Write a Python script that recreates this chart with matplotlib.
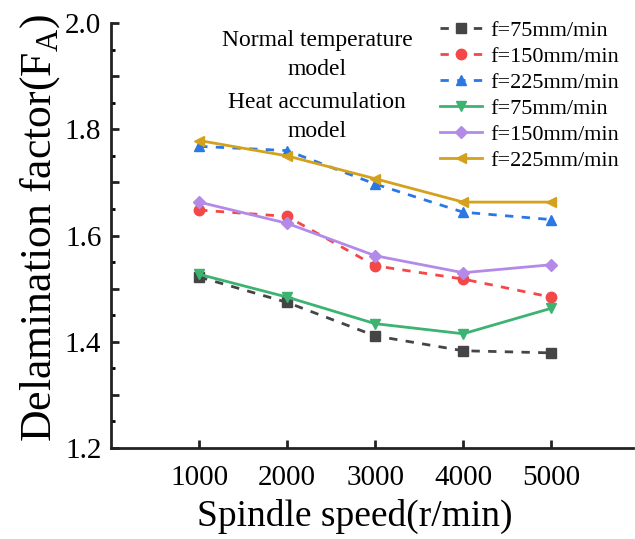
import matplotlib
matplotlib.use('Agg')
import matplotlib.pyplot as plt
from matplotlib.ticker import MultipleLocator, FuncFormatter

plt.rcParams['font.family'] = ['Liberation Serif', 'DejaVu Serif']
plt.rcParams['mathtext.fontset'] = 'custom'
plt.rcParams['mathtext.rm'] = 'Liberation Serif'

# spindle speed (r/min)
speed = [1000, 2000, 3000, 4000, 5000]

# normal temperature model
normal_75 = [1.522, 1.474, 1.411, 1.383, 1.379]
normal_150 = [1.648, 1.636, 1.543, 1.518, 1.484]
normal_225 = [1.768, 1.760, 1.697, 1.644, 1.630]

# heat accumulation model
heat_75 = [1.527, 1.484, 1.434, 1.415, 1.463]
heat_150 = [1.663, 1.623, 1.562, 1.530, 1.545]
heat_225 = [1.779, 1.750, 1.707, 1.663, 1.663]

labels = ['f=75mm/min', 'f=150mm/min', 'f=225mm/min']

fig = plt.figure(figsize=(6.35, 5.39), dpi=100)
ax = fig.add_axes([0.175, 0.169, 0.822, 0.788])

dash = (3, 3)
ax.plot(speed, normal_75, color='#454545', ls='--', dashes=dash, lw=2,
        marker='s', ms=7.5, label=labels[0])
ax.plot(speed, normal_150, color='#f44848', ls='--', dashes=dash, lw=2,
        marker='o', ms=7.5, label=labels[1])
ax.plot(speed, normal_225, color='#2a78e4', ls='--', dashes=dash, lw=2,
        marker='^', ms=7.5, label=labels[2])
ax.plot(speed, heat_75, color='#3cb371', lw=2, marker='v', ms=7.5, label=labels[0])
ax.plot(speed, heat_150, color='#b48ae8', lw=2, marker='D', ms=6.5, label=labels[1])
ax.plot(speed, heat_225, color='#d4a11c', lw=2, marker='<', ms=7.5, label=labels[2])

ax.set_xlim(0, 5930)
ax.set_ylim(1.2, 2.0)
ax.set_xticks(speed)
ax.yaxis.set_major_locator(MultipleLocator(0.1))
ax.yaxis.set_minor_locator(MultipleLocator(0.05))
ax.yaxis.set_major_formatter(FuncFormatter(
    lambda v, p: f'{v:.1f}' if round(v * 10) % 2 == 0 else ''))

ax.spines['top'].set_visible(False)
ax.spines['right'].set_visible(False)
for s in ['left', 'bottom']:
    ax.spines[s].set_linewidth(2)
    ax.spines[s].set_color('#222222')
ax.tick_params(axis='both', which='major', direction='in', length=6, width=2,
               labelsize=21, colors='#222222', labelcolor='black')
ax.tick_params(axis='x', pad=12)
ax.tick_params(axis='y', pad=7)
ax.tick_params(axis='y', which='minor', direction='in', length=3, width=2)

ax.set_xlabel('Spindle speed(r/min)', fontsize=27, labelpad=6, x=0.466)
ax.set_ylabel(r'Delamination factor(F$_\mathregular{A}$)', fontsize=31.5,
              labelpad=2, y=0.518)

ax.legend(loc='upper left', bbox_to_anchor=(440 / 635, 1 - 20 / 539),
          bbox_transform=fig.transFigure, frameon=False, fontsize=16,
          handlelength=1.9, handletextpad=0.35, labelspacing=0.25,
          borderpad=0, borderaxespad=0)

fig.text(317 / 635, 1 - 30 / 539, 'Normal temperature\nmodel', ha='center',
         va='top', fontsize=17, linespacing=1.5, transform=fig.transFigure)
fig.text(317 / 635, 1 - 92 / 539, 'Heat accumulation\nmodel', ha='center',
         va='top', fontsize=17, linespacing=1.5, transform=fig.transFigure)

fig.savefig('out.png', dpi=100)
